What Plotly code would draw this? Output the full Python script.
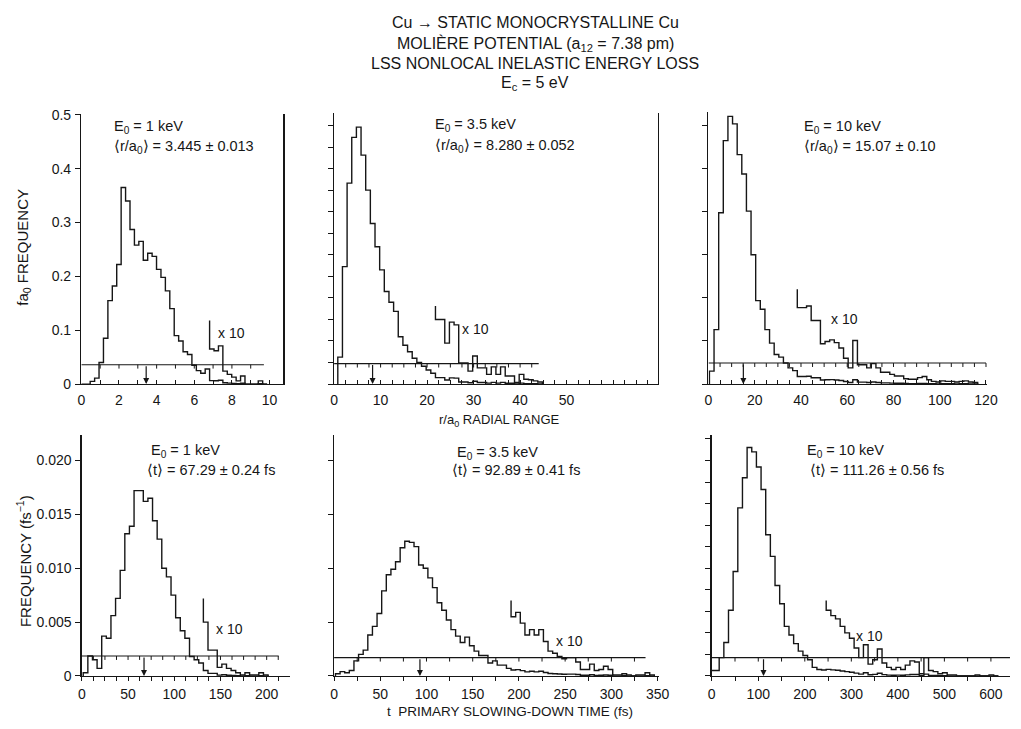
import plotly.graph_objects as go

W, H = 1021, 729          # page size the chart must fill

# ---------------- data ----------------
# Top row: f*a0 frequency versus r/a0 (radial range)
r_energy = ["1 keV", "3.5 keV", "10 keV"]
r_mean = [3.445, 8.280, 15.07]
r_mean_text = ["3.445 ± 0.013", "8.280 ± 0.052", "15.07 ± 0.10"]
r_bin_start = [0.0, 0.8, 0.4]
r_bin_width = [0.235, 1.0, 2.0]

r_freq_1kev = [0, 0, 0.005, 0.011, 0.040, 0.085, 0.155, 0.182, 0.222, 0.365,
               0.340, 0.287, 0.258, 0.265, 0.230, 0.243, 0.237, 0.213, 0.198, 0.173,
               0.140, 0.090, 0.080, 0.060, 0.055, 0.035, 0.025, 0.020, 0.028,
               0.0065, 0.0062, 0.0071, 0.0024, 0.0018, 0.0013, 0.0006, 0.0015,
               0, 0, 0, 0.0006, 0]
r_freq_35kev = [0.050, 0.218, 0.373, 0.458, 0.477, 0.425, 0.360, 0.298, 0.255, 0.212,
                0.172, 0.152, 0.135, 0.088, 0.072, 0.060, 0.048, 0.040, 0.033, 0.026,
                0.020,
                0.0120, 0.0120, 0.0076, 0.0115, 0.0110, 0.0039, 0.0039, 0.0024, 0.0052,
                0.0030, 0.0030, 0.0018, 0.0032, 0.0018, 0.0032, 0.0015, 0.0015, 0.0003,
                0.0018, 0.0009, 0.0008, 0.0006, 0.0004]
r_freq_10kev = [0.024, 0.101, 0.318, 0.452, 0.497, 0.483, 0.426, 0.390, 0.321, 0.240,
                0.155, 0.139, 0.101, 0.076, 0.055, 0.050, 0.039, 0.030, 0.025,
                0.0142, 0.0142, 0.0145, 0.0118, 0.0118, 0.0075, 0.0079, 0.0082, 0.0077,
                0.0067, 0.0048, 0.0030, 0.0081, 0.0036, 0.0036, 0.0030, 0.0038, 0.0030,
                0.0022, 0.0022, 0.0018, 0.0015, 0.0015, 0.0010, 0.0009, 0.0009, 0.0012,
                0.0014, 0.0008, 0.0005, 0.0004, 0.0006, 0.0005, 0.0005, 0.0004, 0.0005,
                0.0006, 0.0004, 0.0003]
r_x10_first_bin = [29, 21, 19]
r_x10_lead_top = [0.118, 0.145, 0.176]
r_x10_axis_level = [0.036, 0.038, 0.039]
r_x10_axis_end = [9.7, 44.0, 120.0]

# Bottom row: frequency (fs^-1) versus primary slowing-down time t (fs)
t_energy = ["1 keV", "3.5 keV", "10 keV"]
t_mean = [67.29, 92.89, 111.26]
t_mean_text = ["67.29 ± 0.24 fs", "92.89 ± 0.41 fs", "111.26 ± 0.56 fs"]
t_bin_start = [1.5, 1.5, -4.0]
t_bin_width = [5.0, 5.0, 10.0]

t_freq_1kev = [0.0003, 0.00185, 0.0015, 0.0007, 0.0037, 0.0035, 0.0056, 0.0072, 0.0098, 0.0132,
               0.0139, 0.0172, 0.0172, 0.0162, 0.0165, 0.0144, 0.0127, 0.0100, 0.0092, 0.0075,
               0.0054, 0.0042, 0.0035, 0.0018, 0.0015, 0.0012,
               0.00050, 0.00024, 0.00024, 0.00008, 0.00011, 0.00007, 0.00005, 0.00003,
               0.00001, 0.00003, 0.00001, 0.00001, 0.00003, 0.00001]
t_freq_35kev = [0.0002, 0.0004, 0.0003, 0.0005, 0.0014, 0.0020, 0.0024, 0.0038, 0.0046, 0.0058,
                0.0079, 0.0094, 0.0099, 0.0106, 0.0119, 0.0125, 0.0124, 0.0120, 0.0103, 0.0100,
                0.0091, 0.0082, 0.0068, 0.0061, 0.0052, 0.0043, 0.0037, 0.0031, 0.0036, 0.0028,
                0.0023, 0.0019, 0.0019, 0.0012, 0.0014, 0.0010, 0.0010, 0.0007,
                0.00055, 0.00059, 0.00049, 0.00038, 0.00043, 0.00038, 0.00043, 0.00032,
                0.00023, 0.00021, 0.00018, 0.00016, 0.00017, 0.00017, 0.00013, 0.00006,
                0.00006, 0.00011, 0.00005, 0.00006, 0.00009, 0.00006, 0.00001, 0.00001,
                0.00002, 0.00001, 0, 0.00001, 0.00001, 0.00003, 0.00001]
t_freq_10kev = [0.0005, 0.0005, 0.0017, 0.0031, 0.0061, 0.0097, 0.0156, 0.0184, 0.0212, 0.0208,
                0.0194, 0.0173, 0.0131, 0.0111, 0.0084, 0.0067, 0.0046, 0.0038, 0.0030, 0.0023,
                0.0019, 0.0015, 0.0008, 0.0006, 0.00055,
                0.00061, 0.00056, 0.00053, 0.00046, 0.00040, 0.00035, 0.00026, 0.00017,
                0.00029, 0.00011, 0.00015, 0.00025, 0.00012, 0.00008, 0.00006, 0.00008,
                0.00006, 0.00010, 0.00014, 0.00013, 0.00002, 0.00017, 0.00005, 0.00004,
                0.00002, 0.00003, 0.00001, 0.00001, 0, 0, 0, 0, 0.00001, 0, 0, 0.00001, 0]
t_x10_first_bin = [26, 38, 25]
t_x10_lead_top = [0.0072, 0.0070, 0.0070]
t_x10_axis_level = [0.00185, 0.0017, 0.0017]
t_x10_axis_end = [213.0, 337.0, 641.0]

# tick labels
r_xtick_labels = [[0, 2, 4, 6, 8, 10], [0, 10, 20, 30, 40, 50], [0, 20, 40, 60, 80, 100, 120]]
t_xtick_labels = [[0, 50, 100, 150, 200], [0, 50, 100, 150, 200, 250, 300, 350],
                  [0, 100, 200, 300, 400, 500, 600]]
r_ytick_labels = ["0", "0.1", "0.2", "0.3", "0.4", "0.5"]
t_ytick_labels = ["0", "0.005", "0.010", "0.015", "0.020"]

# ---------------- layout geometry (page pixels) ----------------
FONT = "Liberation Sans, Arial, Helvetica, sans-serif"
INK = "#161616"

panels = [
    # box: left, right, top, bottom (px); x scale (px per unit); minor x tick step; y tick step
    dict(box=(78.5, 283.3, 109, 385), xs=19.1, xminor=1.0, ystep=0.1, ylab=True, mirror=True),
    dict(box=(335, 663.3, 108, 385), xs=4.72, xminor=2.5, ystep=0.04, ylab=False, mirror=True),
    dict(box=(715, 998, 107, 385), xs=2.347, xminor=5.0, ystep=0.08, ylab=False, mirror=False),
    dict(box=(79, 290, 437, 683), xs=0.938, xminor=12.5, ystep=0.005, ylab=True, mirror=False),
    dict(box=(335, 665, 437, 683), xs=0.938, xminor=25.0, ystep=0.005, ylab=False, mirror=False),
    dict(box=(718.3, W, 437, 683), xs=0.4722, xminor=50.0, ystep=0.002, ylab=False, mirror=False),
]
TOP_PX_PER_UNIT = 550.0
BOT_PX_PER_UNIT = 11000.0

series = [
    (r_bin_start[0], r_bin_width[0], r_freq_1kev, r_x10_first_bin[0], r_x10_lead_top[0], r_x10_axis_level[0], r_x10_axis_end[0], r_mean[0]),
    (r_bin_start[1], r_bin_width[1], r_freq_35kev, r_x10_first_bin[1], r_x10_lead_top[1], r_x10_axis_level[1], r_x10_axis_end[1], r_mean[1]),
    (r_bin_start[2], r_bin_width[2], r_freq_10kev, r_x10_first_bin[2], r_x10_lead_top[2], r_x10_axis_level[2], r_x10_axis_end[2], r_mean[2]),
    (t_bin_start[0], t_bin_width[0], t_freq_1kev, t_x10_first_bin[0], t_x10_lead_top[0], t_x10_axis_level[0], t_x10_axis_end[0], t_mean[0]),
    (t_bin_start[1], t_bin_width[1], t_freq_35kev, t_x10_first_bin[1], t_x10_lead_top[1], t_x10_axis_level[1], t_x10_axis_end[1], t_mean[1]),
    (t_bin_start[2], t_bin_width[2], t_freq_10kev, t_x10_first_bin[2], t_x10_lead_top[2], t_x10_axis_level[2], t_x10_axis_end[2], t_mean[2]),
]
xlabels_all = r_xtick_labels + t_xtick_labels

fig = go.Figure()
annotations = []


def px(x):
    return x / W


def py(y):
    return 1 - y / H


for i, (p, s) in enumerate(zip(panels, series)):
    n = i + 1
    xa = "x" if n == 1 else "x%d" % n
    ya = "y" if n == 1 else "y%d" % n
    left, right, top, bottom = p["box"]
    top_row = i < 3
    ppu = TOP_PX_PER_UNIT if top_row else BOT_PX_PER_UNIT
    ymax = (bottom - top) / ppu
    xmax = (right - left) / p["xs"]
    start, width, vals, k0, lead_top, lvl, lvl_end, mean = s
    lvl_end = min(lvl_end, xmax)

    edges = [start + width * k for k in range(len(vals) + 1)]
    # main histogram
    fig.add_trace(go.Scatter(x=[edges[0]] + edges, y=[0] + list(vals) + [0], mode="lines",
                             line=dict(shape="hv", color=INK, width=1.4),
                             xaxis=xa, yaxis=ya, hoverinfo="skip", showlegend=False))
    # x10 tail
    tail = [10 * v for v in vals[k0:]]
    fig.add_trace(go.Scatter(x=[edges[k0]] + edges[k0:], y=[lead_top] + tail + [0], mode="lines",
                             line=dict(shape="hv", color=INK, width=1.4),
                             xaxis=xa, yaxis=ya, hoverinfo="skip", showlegend=False))
    # raised reference axis with downward ticks
    tick_len = 4.0 / ppu
    fig.add_trace(go.Scatter(x=[0, lvl_end], y=[lvl, lvl], mode="lines",
                             line=dict(color=INK, width=1.1),
                             xaxis=xa, yaxis=ya, hoverinfo="skip", showlegend=False))
    sx, sy = [], []
    k = 1
    while p["xminor"] * k <= lvl_end + 1e-9:
        xv = p["xminor"] * k
        sx += [xv, xv, None]
        sy += [lvl, lvl - tick_len, None]
        k += 1
    fig.add_trace(go.Scatter(x=sx, y=sy, mode="lines", line=dict(color=INK, width=1.0),
                             xaxis=xa, yaxis=ya, hoverinfo="skip", showlegend=False))
    # mean arrow
    annotations.append(dict(x=mean, y=0, ax=mean, ay=lvl, xref=xa, yref=ya, axref=xa, ayref=ya,
                            text="", showarrow=True, arrowhead=2, arrowsize=1.0, arrowwidth=1.2,
                            arrowcolor=INK, standoff=0, startstandoff=0))

    # axes
    labels = xlabels_all[i]
    minor_x = []
    k = 0
    while p["xminor"] * k <= xmax + 1e-9:
        minor_x.append(round(p["xminor"] * k, 6))
        k += 1
    yt = []
    k = 0
    while p["ystep"] * k <= ymax + 1e-9:
        yt.append(round(p["ystep"] * k, 6))
        k += 1

    xkey = "xaxis" if n == 1 else "xaxis%d" % n
    ykey = "yaxis" if n == 1 else "yaxis%d" % n
    tick_dir = "inside" if top_row else "outside"
    fig.layout[xkey] = dict(domain=[px(left), min(px(right), 1.0)], range=[0, xmax], anchor=ya,
                            showline=True, linecolor=INK, linewidth=1.4, mirror=False,
                            ticks=tick_dir, ticklen=4, tickwidth=1, tickcolor=INK,
                            tickmode="array", tickvals=labels, ticktext=[str(v) for v in labels],
                            minor=dict(tickmode="array", tickvals=minor_x, ticks=tick_dir,
                                       ticklen=4, tickwidth=1, tickcolor=INK, showgrid=False),
                            showgrid=False, zeroline=False,
                            tickfont=dict(family=FONT, size=14, color=INK),
                            ticklabelstandoff=3 if top_row else 1, fixedrange=True)
    ycfg = dict(domain=[py(bottom), py(top)], range=[0, ymax], anchor=xa,
                showline=True, linecolor=INK, linewidth=1.4, mirror=p["mirror"],
                ticks="outside", ticklen=5, tickwidth=1, tickcolor=INK,
                tickmode="array", tickvals=yt, showgrid=False, zeroline=False,
                tickfont=dict(family=FONT, size=14, color=INK),
                ticklabelstandoff=1, fixedrange=True)
    if p["ylab"]:
        lab = r_ytick_labels if top_row else t_ytick_labels
        ycfg["ticktext"] = lab[:len(yt)]
    else:
        ycfg["showticklabels"] = False
    fig.layout[ykey] = ycfg

# ---------------- texts ----------------
def text(xp, yp, s, size=14, anchor="left", angle=0):
    annotations.append(dict(x=px(xp), y=py(yp), xref="paper", yref="paper", text=s,
                            showarrow=False, xanchor=anchor, yanchor="middle", textangle=angle,
                            font=dict(family=FONT, size=size, color=INK)))

title_lines = ["Cu → STATIC MONOCRYSTALLINE Cu",
               "MOLIÈRE POTENTIAL (a<sub>12</sub> = 7.38 pm)",
               "LSS NONLOCAL INELASTIC ENERGY LOSS",
               "E<sub>c</sub> = 5 eV"]
for yy, line in zip([16, 38, 58, 78], title_lines):
    text(539, yy, line, size=16, anchor="center")

info_pos = [((110, 123), (110, 143)), ((435, 120), (435, 142)), ((810, 123), (810, 143)),
            ((147, 453), (143, 473)), ((458, 455), (453, 473)), ((813, 453), (816, 473))]
for i in range(6):
    if i < 3:
        l1 = "E<sub>0</sub> = " + r_energy[i]
        l2 = "⟨r/a<sub>0</sub>⟩ = " + r_mean_text[i]
    else:
        l1 = "E<sub>0</sub> = " + t_energy[i - 3]
        l2 = "⟨t⟩ = " + t_mean_text[i - 3]
    (x1, y1), (x2, y2) = info_pos[i]
    text(x1, y1, l1, size=14.5)
    text(x2, y2, l2, size=14.5)

x10_pos = [(215, 333), (463, 329), (837, 319), (213, 635), (558, 647), (863, 642)]
for (xx, yy) in x10_pos:
    text(xx, yy, "x 10", size=14)

text(20, 245, "fa<sub>0</sub> FREQUENCY", size=15, anchor="center", angle=-90)
text(20, 566, "FREQUENCY (fs<sup>−1</sup>)", size=15, anchor="center", angle=-90)
text(502, 422, "r/a<sub>0</sub> RADIAL RANGE", size=13, anchor="center")
text(514, 719, "t  PRIMARY SLOWING-DOWN TIME (fs)", size=13.5, anchor="center")

fig.update_layout(width=W, height=H, margin=dict(l=0, r=0, t=0, b=0),
                  paper_bgcolor="white", plot_bgcolor="white", showlegend=False,
                  annotations=annotations, font=dict(family=FONT, color=INK))
fig.write_html("out.html", config={"displayModeBar": False, "staticPlot": True},
               post_script="document.body.style.margin='0px';document.body.style.overflow='hidden';")
